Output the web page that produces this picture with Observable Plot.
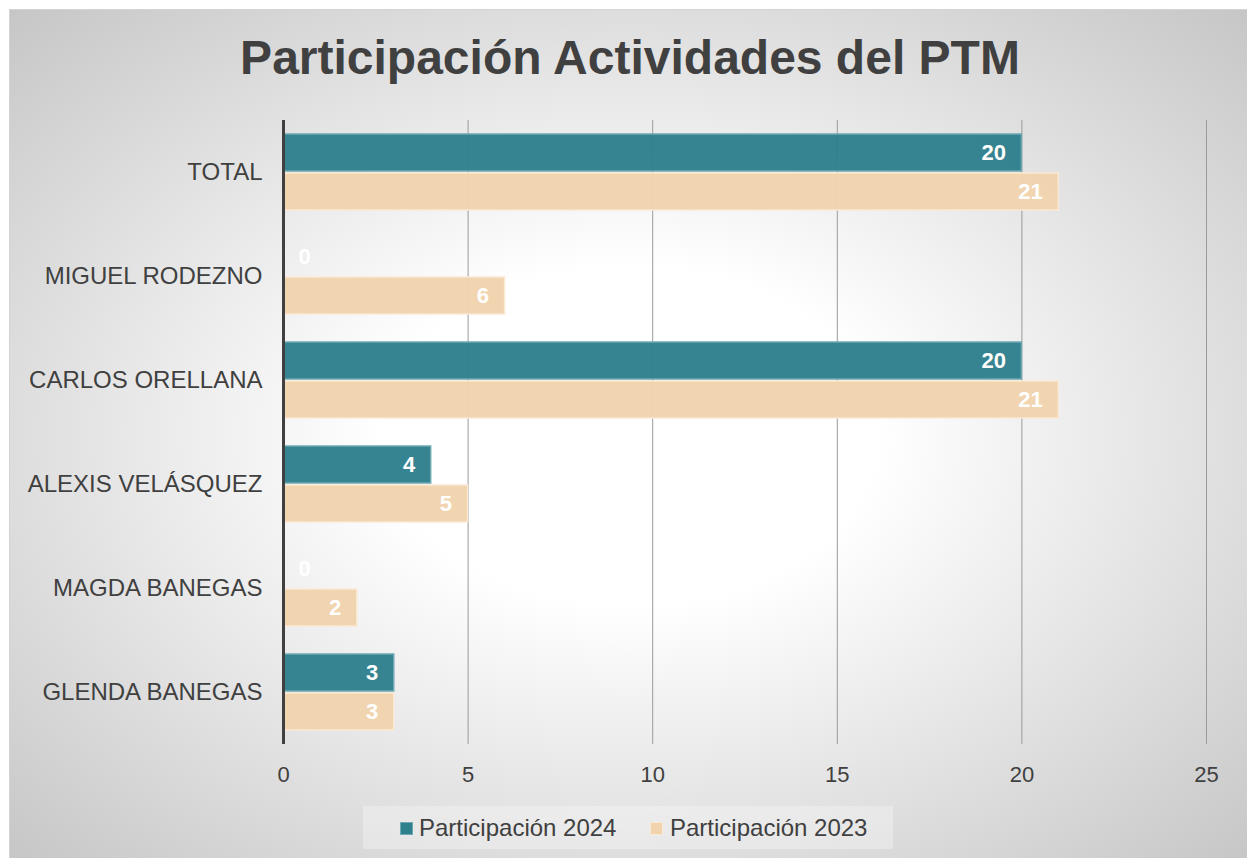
<!DOCTYPE html>
<html>
<head>
<meta charset="utf-8">
<script src="https://cdn.jsdelivr.net/npm/d3@7"></script>
<script src="https://cdn.jsdelivr.net/npm/@observablehq/plot@0.6"></script>
<style>
  html, body { margin: 0; padding: 0; width: 1247px; height: 858px; overflow: hidden; background: #fff; }
  #chart {
    position: absolute; left: 9px; top: 9px; width: 1240px; height: 852px;
    border: 1px solid #d4d4d4;
    background: radial-gradient(ellipse farthest-corner at 50% 50%, #ffffff 0%, #ffffff 28%, #c6c6c6 100%);
    font-family: "Liberation Sans", Arial, sans-serif; color: #404040;
  }
  #title {
    position: absolute; left: 0; top: 24px; width: 1240px; text-align: center;
    font-size: 48px; line-height: 48px; font-weight: bold; color: #404040;
  }
  #plot { position: absolute; left: 0; top: 90px; }
  #legend {
    position: absolute; left: 353px; top: 796px; width: 530px; height: 43px;
    background: rgba(255,255,255,0.3);
    font-size: 24px; color: #404040;
  }
  .lg { position: absolute; top: 0; height: 43px; line-height: 43px; white-space: nowrap; }
  .sw { position: absolute; width: 11px; height: 11px; top: 17px; }
  [aria-label^="fy-axis"] text { font-size: 24px; }
  [aria-label^="x-axis"] text { font-size: 22px; }
</style>
</head>
<body>
<div id="chart">
  <div id="title">Participación Actividades del PTM</div>
  <div id="plot"></div>
  <div id="legend"></div>
</div>
<script>
const categories = ["TOTAL", "MIGUEL RODEZNO", "CARLOS ORELLANA", "ALEXIS VELÁSQUEZ", "MAGDA BANEGAS", "GLENDA BANEGAS"];
const seriesNames = ["Participación 2024", "Participación 2023"];
const values2024 = [20, 0, 20, 4, 0, 3];
const values2023 = [21, 6, 21, 5, 2, 3];
const xTicks = [0, 5, 10, 15, 20, 25];
const seriesColors = ["#2f808d", "#f1d3ad"];
const seriesStrokes = ["#6ea9b2", "#fae9d4"];

const data = [];
categories.forEach((c, i) => {
  data.push({name: c, series: seriesNames[0], value: values2024[i]});
  data.push({name: c, series: seriesNames[1], value: values2023[i]});
});

const plot = Plot.plot({
  width: 1230,
  height: 700,
  marginLeft: 273,
  marginRight: 34,
  marginTop: 18,
  marginBottom: 55,
  style: {background: "transparent", color: "#404040", fontFamily: "'Liberation Sans', Arial, sans-serif", fontSize: "22px", overflow: "visible"},
  x: {domain: [0, 25], ticks: xTicks, tickSize: 0, tickPadding: 22, label: null},
  y: {domain: seriesNames, paddingInner: 0.05, paddingOuter: 0.331, axis: null},
  fy: {domain: categories, padding: 0, label: null, axis: "left", tickSize: 0, tickPadding: 21},
  color: {domain: seriesNames, range: seriesColors},
  marks: [
    Plot.ruleX(xTicks.filter(d => d > 0), {stroke: "#9a9a9a", strokeWidth: 1}),
    Plot.barX(data.filter(d => d.value > 0), {x: "value", y: "series", fy: "name", fill: "series", fillOpacity: 0.97,
      stroke: d => seriesStrokes[seriesNames.indexOf(d.series)], strokeWidth: 1.5}),
    Plot.ruleX([0], {stroke: "#404040", strokeWidth: 3}),
    Plot.text(data.filter(d => d.value > 0), {x: "value", y: "series", fy: "name", text: d => String(d.value),
      textAnchor: "end", dx: -16, fill: "white", fontWeight: "bold", fontSize: 22}),
    Plot.text(data.filter(d => d.value === 0), {x: "value", y: "series", fy: "name", text: d => String(d.value),
      textAnchor: "start", dx: 15, fill: "white", fontWeight: "bold", fontSize: 22})
  ]
});
document.getElementById("plot").appendChild(plot);

const legend = document.getElementById("legend");
const legendPos = [[38, 56], [288, 307]];
seriesNames.forEach((s, i) => {
  const sw = document.createElement("div");
  sw.className = "sw";
  sw.style.left = legendPos[i][0] + "px";
  sw.style.background = seriesColors[i];
  sw.style.outline = "1px solid " + seriesStrokes[i];
  legend.appendChild(sw);
  const t = document.createElement("div");
  t.className = "lg";
  t.style.left = legendPos[i][1] + "px";
  t.textContent = s;
  legend.appendChild(t);
});
</script>
</body>
</html>
